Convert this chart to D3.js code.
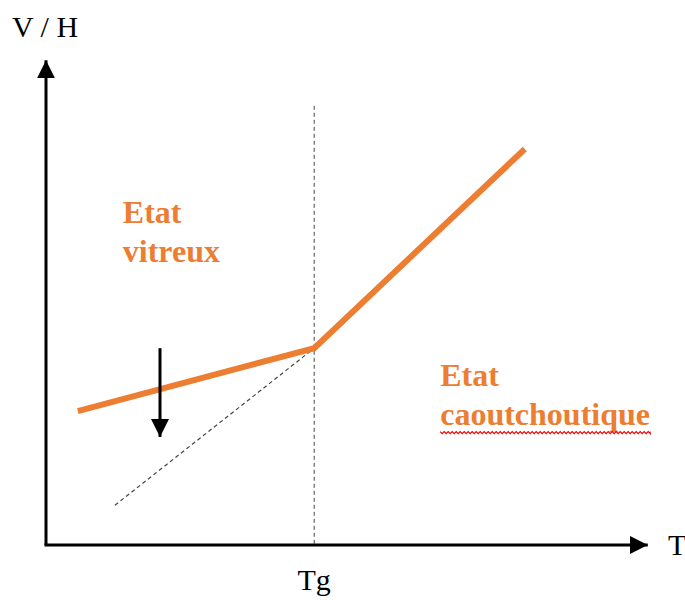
<!DOCTYPE html>
<html><head><meta charset="utf-8">
<script src="https://cdn.jsdelivr.net/npm/d3@7"></script>
<style>body{margin:0;background:#fff}svg{display:block}</style>
</head><body>
<script>
// Data (arbitrary units)
const glassLine = [[0.53, 2.79], [4.47, 4.10]];
const rubberLine = [[4.47, 4.10], [7.98, 8.25]];
const extrapolated = [[1.15, 0.83], [4.47, 4.10]];
const Tg = 4.47;
const tgLineTop = 9.15;
const coolingArrow = [[1.9, 4.1], [1.9, 2.25]];
const axisLabels = {y: "V / H", x: "T", tg: "Tg"};
const regionLabels = [
  {lines: ["Etat", "vitreux"], x: 1.28, y: 6.7, underline: false},
  {lines: ["Etat", "caoutchoutique"], x: 6.57, y: 3.32, underline: true}
];

const W = 685, H = 600;
const x = d3.scaleLinear().domain([0, 10]).range([46, 646]);
const y = d3.scaleLinear().domain([0, 10]).range([545, 65]);
const orange = "#ED7D31";

const svg = d3.select("body").append("svg").attr("width", W).attr("height", H);
const defs = svg.append("defs");
defs.append("marker").attr("id", "ah").attr("viewBox", "0 0 10 10")
  .attr("refX", 10).attr("refY", 5).attr("markerWidth", 6).attr("markerHeight", 6)
  .attr("markerUnits", "strokeWidth").attr("orient", "auto")
  .append("path").attr("d", "M0,0 L10,5 L0,10 Z").attr("fill", "#000");

const line = d3.line().x(d => x(d[0])).y(d => y(d[1]));

// Tg vertical dashed line
svg.append("line").attr("x1", x(Tg)).attr("x2", x(Tg)).attr("y1", y(tgLineTop)).attr("y2", y(0))
  .attr("stroke", "#444").attr("stroke-width", 1).attr("stroke-dasharray", "4,3");
// extrapolated dashed
svg.append("path").attr("d", line(extrapolated)).attr("fill", "none")
  .attr("stroke", "#444").attr("stroke-width", 1.2).attr("stroke-dasharray", "4,3");

// Axes
svg.append("line").attr("x1", x(0)).attr("y1", y(0)).attr("x2", x(0)).attr("y2", y(10.1))
  .attr("stroke", "#000").attr("stroke-width", 3).attr("marker-end", "url(#ah)");
svg.append("line").attr("x1", x(0) - 1.5).attr("y1", y(0)).attr("x2", x(10.03)).attr("y2", y(0))
  .attr("stroke", "#000").attr("stroke-width", 3).attr("marker-end", "url(#ah)");

// Orange curve
svg.append("path").attr("d", line(glassLine.concat(rubberLine.slice(1)))).attr("fill", "none")
  .attr("stroke", orange).attr("stroke-width", 6).attr("stroke-linejoin", "miter");

// cooling arrow
svg.append("line").attr("x1", x(coolingArrow[0][0])).attr("y1", y(coolingArrow[0][1]))
  .attr("x2", x(coolingArrow[1][0])).attr("y2", y(coolingArrow[1][1]))
  .attr("stroke", "#000").attr("stroke-width", 3).attr("marker-end", "url(#ah)");

// Axis labels
const serif = "'Liberation Serif','Times New Roman',serif";
svg.append("text").attr("x", 12).attr("y", 37).text(axisLabels.y)
  .attr("font-family", serif).attr("font-size", 30);
svg.append("text").attr("x", 668).attr("y", 555).text(axisLabels.x)
  .attr("font-family", serif).attr("font-size", 30);
svg.append("text").attr("x", x(Tg)).attr("y", 590).attr("text-anchor", "middle").text(axisLabels.tg)
  .attr("font-family", serif).attr("font-size", 30);

// Region labels
regionLabels.forEach(r => {
  r.lines.forEach((t, i) => {
    const tx = svg.append("text").attr("x", x(r.x)).attr("y", y(r.y) + i * 39).text(t)
      .attr("font-family", serif).attr("font-size", 32).attr("font-weight", "bold").attr("fill", orange);
    if (r.underline && i === r.lines.length - 1) {
      const bb = tx.node().getBBox();
      const x0 = bb.x, x1 = bb.x + bb.width, yy = y(r.y) + i * 39 + 7;
      let d = `M${x0},${yy}`;
      for (let xx = x0; xx < x1; xx += 4) d += ` L${xx + 2},${yy + 2} L${Math.min(xx + 4, x1)},${yy}`;
      svg.append("path").attr("d", d).attr("fill", "none").attr("stroke", "#e00").attr("stroke-width", 1.2);
    }
  });
});
</script>
</body></html>
